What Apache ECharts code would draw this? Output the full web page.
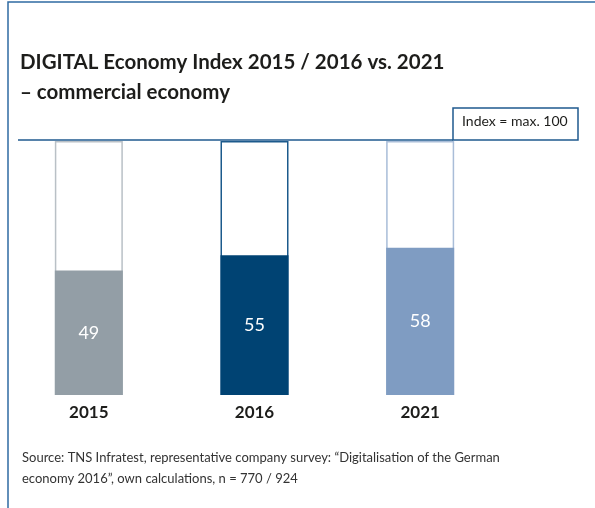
<!DOCTYPE html>
<html>
<head>
<meta charset="utf-8">
<script src="https://cdn.jsdelivr.net/npm/echarts@6/dist/echarts.min.js"></script>
<style>
  html, body { margin: 0; padding: 0; background: #fff; }
  #main { width: 595px; height: 508px; }
</style>
</head>
<body>
<div id="main"></div>
<script>
var years = ['2015', '2016', '2021'];
var indexValues = [49, 55, 58];
var maxValues = [100, 100, 100];
var fillColors = ['#939ea6', '#004373', '#7f9cc2'];
var outlineColors = ['#b9c0c6', '#1c5a8c', '#a9bdd8'];

var dom = document.getElementById('main');
var myChart = echarts.init(dom, null, { renderer: 'canvas' });
var font = 'Lato, "Open Sans", sans-serif';

var option = {
    animation: false,
    title: {
        text: 'DIGITAL Economy Index 2015 / 2016 vs. 2021\n\u2013 commercial economy',
        left: 15,
        top: 42,
        textStyle: {
            fontFamily: font,
            fontSize: 20.5,
            fontWeight: 'bold',
            color: '#1d1d1b',
            lineHeight: 30
        }
    },
    grid: {
        left: 6,
        right: 92,
        top: 141,
        bottom: 113
    },
    xAxis: {
        type: 'category',
        data: years,
        axisLine: { show: false },
        axisTick: { show: false },
        axisLabel: {
            margin: 9,
            fontFamily: font,
            fontSize: 17,
            fontWeight: 'bold',
            color: '#1d1d1b'
        }
    },
    yAxis: {
        type: 'value',
        min: 0,
        max: 100,
        show: false
    },
    series: [{
        name: 'max',
        type: 'bar',
        barWidth: 68,
        barGap: '-100%',
        silent: true,
        data: maxValues.map(function (v, i) {
            return {
                value: v,
                itemStyle: { color: '#fff', borderColor: outlineColors[i], borderWidth: 1.5 }
            };
        })
    }, {
        name: 'Index',
        type: 'bar',
        barWidth: 68,
        data: indexValues.map(function (v, i) {
            return { value: v, itemStyle: { color: fillColors[i] } };
        }),
        label: {
            show: true,
            position: 'inside',
            color: '#fff',
            fontFamily: font,
            fontSize: 18
        }
    }],
    graphic: [{
        type: 'rect',
        shape: { x: 8, y: 2, width: 620, height: 540 },
        style: { fill: 'none', stroke: '#2f6ba3', lineWidth: 1.5 }
    }, {
        type: 'line',
        shape: { x1: 18, y1: 140, x2: 453, y2: 140 },
        style: { stroke: '#1f5a8f', lineWidth: 1.5 }
    }, {
        type: 'rect',
        shape: { x: 453, y: 108, width: 125, height: 32 },
        style: { fill: '#fff', stroke: '#1f5a8f', lineWidth: 1.5 }
    }, {
        type: 'text',
        left: 462,
        top: 114,
        style: {
            text: 'Index = max. 100',
            font: '14px ' + font,
            fill: '#1d1d1b'
        }
    }, {
        type: 'text',
        left: 22,
        top: 447,
        style: {
            text: 'Source: TNS Infratest, representative company survey: \u201cDigitalisation of the German\neconomy 2016\u201d, own calculations, n = 770 / 924',
            font: '13px ' + font,
            lineHeight: 21,
            fill: '#333333'
        }
    }]
};

myChart.setOption(option);
window.addEventListener('resize', myChart.resize);
</script>
</body>
</html>
